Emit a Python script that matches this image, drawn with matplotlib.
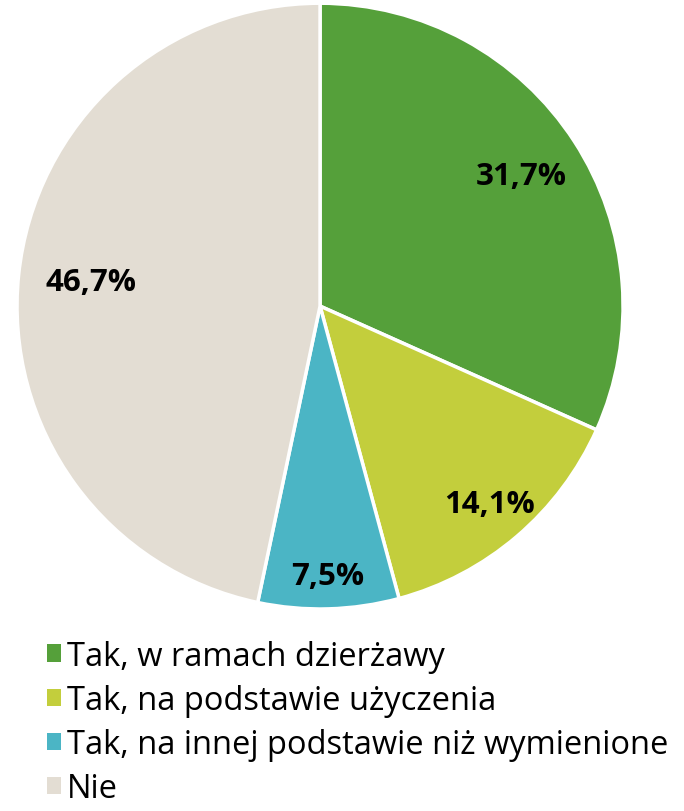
import matplotlib.pyplot as plt
import numpy as np

labels = ["Tak, w ramach dzierżawy", "Tak, na podstawie użyczenia",
          "Tak, na innej podstawie niż wymienione", "Nie"]
values = [31.7, 14.1, 7.5, 46.7]
colors = ["#55A03A", "#C3CE3C", "#4BB5C5", "#E3DDD3"]
label_dist = [0.79, 0.86, 0.89, 0.76]

plt.rcParams['font.family'] = ['Open Sans', 'DejaVu Sans']

fig = plt.figure(figsize=(6.84, 8.12), dpi=100)
ax = fig.add_axes([0.0249, 0.2488, 0.886, 0.746])
wedges, _ = ax.pie(values, colors=colors, startangle=90, counterclock=False,
                   radius=1.0, wedgeprops=dict(edgecolor='white', linewidth=2.5))
ax.set_xlim(-1, 1)
ax.set_ylim(-1, 1)
ax.set_aspect('auto')
ax.axis('off')

for w, v, d in zip(wedges, values, label_dist):
    ang = np.deg2rad((w.theta1 + w.theta2) / 2)
    ax.text(d * np.cos(ang), d * np.sin(ang), f"{v:.1f}%".replace('.', ','),
            ha='center', va='center', fontsize=22.5, fontweight='bold')

leg = fig.legend(wedges, labels, loc='upper left', bbox_to_anchor=(0.068, 0.211),
                 frameon=False, fontsize=23.5, handlelength=0.43, handleheight=0.43,
                 handletextpad=0.2, labelspacing=0.34, borderpad=0, borderaxespad=0)
for h in leg.legend_handles:
    h.set_edgecolor('none')

fig.savefig('out.png', dpi=100)
